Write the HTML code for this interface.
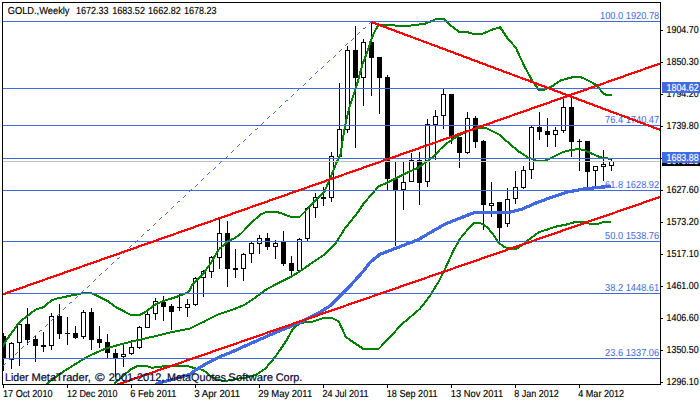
<!DOCTYPE html>
<html><head><meta charset="utf-8"><title>GOLD Weekly</title>
<style>html,body{margin:0;padding:0;background:#fff;}body{width:700px;height:402px;overflow:hidden;}svg{display:block;}text{font-family:"Liberation Sans",sans-serif;stroke-width:0.15px;text-rendering:geometricPrecision;}.k{stroke:#000}.b{stroke:none}.w{stroke:#fff}.n{stroke:#080830;stroke-width:0.2px}</style>
</head><body>
<svg width="700" height="402" viewBox="0 0 700 402">
<rect x="0" y="0" width="700" height="402" fill="#fff"/>
<defs><clipPath id="cp"><rect x="3" y="3" width="657" height="381"/></clipPath></defs>
<g clip-path="url(#cp)">
<g shape-rendering="crispEdges">
<rect x="3" y="333" width="1" height="38" fill="#000"/>
<rect x="1" y="336" width="5" height="23" fill="#000"/>
<rect x="11" y="342" width="1" height="27" fill="#000"/>
<rect x="9.5" y="343.5" width="4" height="16" fill="#fff" stroke="#000" stroke-width="1"/>
<rect x="19" y="322" width="1" height="44" fill="#000"/>
<rect x="17.5" y="324.5" width="4" height="18" fill="#fff" stroke="#000" stroke-width="1"/>
<rect x="27" y="308" width="1" height="37" fill="#000"/>
<rect x="25" y="324" width="5" height="16" fill="#000"/>
<rect x="35" y="335" width="1" height="27" fill="#000"/>
<rect x="33" y="339" width="5" height="7" fill="#000"/>
<rect x="43" y="332" width="1" height="20" fill="#000"/>
<rect x="41" y="345" width="5" height="2" fill="#000"/>
<rect x="51" y="313" width="1" height="37" fill="#000"/>
<rect x="49.5" y="316.5" width="4" height="29" fill="#fff" stroke="#000" stroke-width="1"/>
<rect x="59" y="304" width="1" height="35" fill="#000"/>
<rect x="57" y="316" width="5" height="18" fill="#000"/>
<rect x="67" y="317" width="1" height="28" fill="#000"/>
<rect x="65" y="333" width="5" height="1" fill="#000"/>
<rect x="75" y="326" width="1" height="13" fill="#000"/>
<rect x="73" y="333" width="5" height="5" fill="#000"/>
<rect x="83" y="310" width="1" height="29" fill="#000"/>
<rect x="81.5" y="312.5" width="4" height="24" fill="#fff" stroke="#000" stroke-width="1"/>
<rect x="91" y="308" width="1" height="42" fill="#000"/>
<rect x="89" y="312" width="5" height="28" fill="#000"/>
<rect x="99" y="326" width="1" height="22" fill="#000"/>
<rect x="97" y="339" width="5" height="4" fill="#000"/>
<rect x="107" y="334" width="1" height="24" fill="#000"/>
<rect x="105" y="342" width="5" height="11" fill="#000"/>
<rect x="115" y="349" width="1" height="28" fill="#000"/>
<rect x="113" y="353" width="5" height="5" fill="#000"/>
<rect x="123" y="345" width="1" height="22" fill="#000"/>
<rect x="121.5" y="354.5" width="4" height="2" fill="#fff" stroke="#000" stroke-width="1"/>
<rect x="131" y="340" width="1" height="15" fill="#000"/>
<rect x="129.5" y="347.5" width="4" height="6" fill="#fff" stroke="#000" stroke-width="1"/>
<rect x="139" y="326" width="1" height="23" fill="#000"/>
<rect x="137.5" y="327.5" width="4" height="20" fill="#fff" stroke="#000" stroke-width="1"/>
<rect x="147" y="312" width="1" height="16" fill="#000"/>
<rect x="145.5" y="314.5" width="4" height="13" fill="#fff" stroke="#000" stroke-width="1"/>
<rect x="155" y="298" width="1" height="22" fill="#000"/>
<rect x="153.5" y="301.5" width="4" height="12" fill="#fff" stroke="#000" stroke-width="1"/>
<rect x="163" y="296" width="1" height="25" fill="#000"/>
<rect x="161" y="302" width="5" height="5" fill="#000"/>
<rect x="171" y="304" width="1" height="26" fill="#000"/>
<rect x="169" y="306" width="5" height="6" fill="#000"/>
<rect x="179" y="294" width="1" height="17" fill="#000"/>
<rect x="177" y="307" width="5" height="1" fill="#000"/>
<rect x="187" y="299" width="1" height="18" fill="#000"/>
<rect x="185.5" y="304.5" width="4" height="3" fill="#fff" stroke="#000" stroke-width="1"/>
<rect x="195" y="277" width="1" height="29" fill="#000"/>
<rect x="193.5" y="278.5" width="4" height="26" fill="#fff" stroke="#000" stroke-width="1"/>
<rect x="203" y="270" width="1" height="27" fill="#000"/>
<rect x="201.5" y="271.5" width="4" height="6" fill="#fff" stroke="#000" stroke-width="1"/>
<rect x="211" y="256" width="1" height="22" fill="#000"/>
<rect x="209.5" y="257.5" width="4" height="14" fill="#fff" stroke="#000" stroke-width="1"/>
<rect x="219" y="219" width="1" height="50" fill="#000"/>
<rect x="217.5" y="233.5" width="4" height="24" fill="#fff" stroke="#000" stroke-width="1"/>
<rect x="227" y="221" width="1" height="66" fill="#000"/>
<rect x="225" y="233" width="5" height="36" fill="#000"/>
<rect x="235" y="249" width="1" height="29" fill="#000"/>
<rect x="233" y="268" width="5" height="2" fill="#000"/>
<rect x="243" y="253" width="1" height="28" fill="#000"/>
<rect x="241.5" y="254.5" width="4" height="14" fill="#fff" stroke="#000" stroke-width="1"/>
<rect x="251" y="242" width="1" height="21" fill="#000"/>
<rect x="249.5" y="243.5" width="4" height="10" fill="#fff" stroke="#000" stroke-width="1"/>
<rect x="259" y="235" width="1" height="19" fill="#000"/>
<rect x="257.5" y="238.5" width="4" height="5" fill="#fff" stroke="#000" stroke-width="1"/>
<rect x="267" y="233" width="1" height="17" fill="#000"/>
<rect x="265" y="238" width="5" height="9" fill="#000"/>
<rect x="275" y="240" width="1" height="19" fill="#000"/>
<rect x="273.5" y="243.5" width="4" height="3" fill="#fff" stroke="#000" stroke-width="1"/>
<rect x="283" y="231" width="1" height="35" fill="#000"/>
<rect x="281" y="242" width="5" height="22" fill="#000"/>
<rect x="291" y="256" width="1" height="22" fill="#000"/>
<rect x="289" y="263" width="5" height="8" fill="#000"/>
<rect x="299" y="238" width="1" height="34" fill="#000"/>
<rect x="297.5" y="239.5" width="4" height="31" fill="#fff" stroke="#000" stroke-width="1"/>
<rect x="307" y="207" width="1" height="34" fill="#000"/>
<rect x="305.5" y="208.5" width="4" height="30" fill="#fff" stroke="#000" stroke-width="1"/>
<rect x="315" y="193" width="1" height="25" fill="#000"/>
<rect x="313.5" y="197.5" width="4" height="10" fill="#fff" stroke="#000" stroke-width="1"/>
<rect x="323" y="187" width="1" height="19" fill="#000"/>
<rect x="321" y="197" width="5" height="2" fill="#000"/>
<rect x="331" y="152" width="1" height="50" fill="#000"/>
<rect x="329.5" y="156.5" width="4" height="41" fill="#fff" stroke="#000" stroke-width="1"/>
<rect x="339" y="83" width="1" height="74" fill="#000"/>
<rect x="337.5" y="129.5" width="4" height="27" fill="#fff" stroke="#000" stroke-width="1"/>
<rect x="347" y="46" width="1" height="87" fill="#000"/>
<rect x="345.5" y="50.5" width="4" height="79" fill="#fff" stroke="#000" stroke-width="1"/>
<rect x="355" y="26" width="1" height="122" fill="#000"/>
<rect x="353" y="50" width="5" height="28" fill="#000"/>
<rect x="363" y="39" width="1" height="67" fill="#000"/>
<rect x="361.5" y="42.5" width="4" height="35" fill="#fff" stroke="#000" stroke-width="1"/>
<rect x="371" y="22" width="1" height="74" fill="#000"/>
<rect x="369" y="42" width="5" height="16" fill="#000"/>
<rect x="379" y="57" width="1" height="57" fill="#000"/>
<rect x="377" y="57" width="5" height="21" fill="#000"/>
<rect x="387" y="75" width="1" height="115" fill="#000"/>
<rect x="385" y="77" width="5" height="102" fill="#000"/>
<rect x="395" y="162" width="1" height="84" fill="#000"/>
<rect x="393" y="178" width="5" height="12" fill="#000"/>
<rect x="403" y="161" width="1" height="49" fill="#000"/>
<rect x="401.5" y="182.5" width="4" height="7" fill="#fff" stroke="#000" stroke-width="1"/>
<rect x="411" y="153" width="1" height="29" fill="#000"/>
<rect x="409.5" y="160.5" width="4" height="21" fill="#fff" stroke="#000" stroke-width="1"/>
<rect x="419" y="152" width="1" height="53" fill="#000"/>
<rect x="417" y="160" width="5" height="23" fill="#000"/>
<rect x="427" y="119" width="1" height="68" fill="#000"/>
<rect x="425.5" y="124.5" width="4" height="57" fill="#fff" stroke="#000" stroke-width="1"/>
<rect x="435" y="110" width="1" height="50" fill="#000"/>
<rect x="433.5" y="116.5" width="4" height="8" fill="#fff" stroke="#000" stroke-width="1"/>
<rect x="443" y="89" width="1" height="40" fill="#000"/>
<rect x="441.5" y="94.5" width="4" height="21" fill="#fff" stroke="#000" stroke-width="1"/>
<rect x="451" y="94" width="1" height="50" fill="#000"/>
<rect x="449" y="94" width="5" height="44" fill="#000"/>
<rect x="459" y="137" width="1" height="31" fill="#000"/>
<rect x="457" y="137" width="5" height="16" fill="#000"/>
<rect x="467" y="112" width="1" height="42" fill="#000"/>
<rect x="465.5" y="118.5" width="4" height="34" fill="#fff" stroke="#000" stroke-width="1"/>
<rect x="475" y="116" width="1" height="32" fill="#000"/>
<rect x="473" y="118" width="5" height="24" fill="#000"/>
<rect x="483" y="140" width="1" height="90" fill="#000"/>
<rect x="481" y="141" width="5" height="64" fill="#000"/>
<rect x="491" y="182" width="1" height="35" fill="#000"/>
<rect x="489.5" y="203.5" width="4" height="2" fill="#fff" stroke="#000" stroke-width="1"/>
<rect x="499" y="202" width="1" height="40" fill="#000"/>
<rect x="497" y="202" width="5" height="26" fill="#000"/>
<rect x="507" y="188" width="1" height="39" fill="#000"/>
<rect x="505.5" y="199.5" width="4" height="24" fill="#fff" stroke="#000" stroke-width="1"/>
<rect x="515" y="171" width="1" height="33" fill="#000"/>
<rect x="513.5" y="187.5" width="4" height="11" fill="#fff" stroke="#000" stroke-width="1"/>
<rect x="523" y="166" width="1" height="23" fill="#000"/>
<rect x="521.5" y="170.5" width="4" height="17" fill="#fff" stroke="#000" stroke-width="1"/>
<rect x="531" y="125" width="1" height="54" fill="#000"/>
<rect x="529.5" y="127.5" width="4" height="42" fill="#fff" stroke="#000" stroke-width="1"/>
<rect x="539" y="112" width="1" height="28" fill="#000"/>
<rect x="537" y="127" width="5" height="5" fill="#000"/>
<rect x="547" y="118" width="1" height="29" fill="#000"/>
<rect x="545" y="131" width="5" height="4" fill="#000"/>
<rect x="555" y="127" width="1" height="20" fill="#000"/>
<rect x="553.5" y="130.5" width="4" height="4" fill="#fff" stroke="#000" stroke-width="1"/>
<rect x="563" y="96" width="1" height="37" fill="#000"/>
<rect x="561.5" y="107.5" width="4" height="23" fill="#fff" stroke="#000" stroke-width="1"/>
<rect x="571" y="96" width="1" height="61" fill="#000"/>
<rect x="569" y="107" width="5" height="35" fill="#000"/>
<rect x="579" y="139" width="1" height="32" fill="#000"/>
<rect x="577" y="141" width="5" height="1" fill="#000"/>
<rect x="587" y="141" width="1" height="46" fill="#000"/>
<rect x="585" y="141" width="5" height="31" fill="#000"/>
<rect x="595" y="166" width="1" height="21" fill="#000"/>
<rect x="593.5" y="166.5" width="4" height="4" fill="#fff" stroke="#000" stroke-width="1"/>
<rect x="603" y="150" width="1" height="31" fill="#000"/>
<rect x="601.5" y="164.5" width="4" height="2" fill="#fff" stroke="#000" stroke-width="1"/>
<rect x="611" y="159" width="1" height="12" fill="#000"/>
<rect x="609.5" y="161.5" width="4" height="4" fill="#fff" stroke="#000" stroke-width="1"/>
</g>
<g fill="none" stroke-linejoin="round" stroke-linecap="butt" shape-rendering="crispEdges">
<polyline points="2.0,347.0 3.6,344.8 7.2,339.1 10.8,334.0 14.4,329.0 17.3,324.8 21.6,320.3 27.4,316.0 31.7,312.4 36.1,309.5 43.3,307.3 47.6,303.7 52.0,300.1 57.7,298.4 63.5,297.2 69.3,295.8 75.0,295.0 82.3,293.2 91.0,293.2 98.7,296.5 107.3,300.8 116.0,307.3 123.2,310.9 130.4,314.8 139.8,314.8 144.8,312.4 150.6,308.0 155.7,304.4 162.2,301.5 170.8,298.7 179.5,295.8 186.7,292.9 190.0,290.0 191.5,286.0 197.3,279.5 203.1,273.8 208.9,265.8 211.0,262.7 214.6,256.6 217.5,251.2 220.4,248.0 223.3,245.4 229.1,240.4 234.8,238.2 240.6,233.9 247.8,226.6 255.0,219.4 260.8,214.4 265.1,212.5 269.5,211.5 275.2,211.5 280.0,212.9 284.0,214.3 288.8,216.3 294.0,217.4 299.6,217.0 307.5,209.0 317.6,198.2 324.8,191.0 330.6,177.3 336.4,162.7 340.7,154.0 343.6,133.9 346.5,119.4 349.7,106.5 356.6,86.0 362.4,64.4 368.0,50.0 370.7,41.0 374.3,32.2 378.6,24.8 387.2,24.5 398.6,25.9 410.0,25.6 424.4,23.9 435.8,19.3 444.4,19.3 450.1,25.0 458.7,31.6 467.3,32.2 474.4,34.2 483.0,33.6 493.0,29.3 500.2,27.3 507.3,37.9 515.9,47.9 524.5,66.5 533.1,82.3 538.8,89.7 544.5,89.7 553.1,85.7 560.3,80.5 565.2,79.1 572.0,77.4 581.5,77.4 587.5,80.3 594.3,83.8 598.6,87.2 602.9,93.2 606.4,94.9 611.5,94.9" stroke="#008000" stroke-width="2"/>
<polyline points="46.2,384.0 60.6,373.3 72.2,366.1 83.7,358.9 90.0,355.5 100.0,351.0 107.3,348.0 126.0,343.0 133.3,341.2 147.7,337.9 155.0,336.2 169.4,332.6 190.0,328.5 204.3,321.5 218.6,314.3 232.9,309.5 244.4,304.9 255.8,297.2 264.4,290.6 275.8,284.3 290.1,277.2 299.6,271.6 313.0,262.1 324.5,254.4 335.9,243.0 344.5,229.0 357.0,213.5 363.0,204.5 368.7,197.7 374.4,191.2 378.8,186.2 386.0,183.3 394.6,179.0 403.3,174.6 410.5,171.0 417.7,168.1 423.5,163.8 429.3,159.5 435.0,155.2 440.8,148.7 446.6,143.6 452.4,139.6 458.7,135.7 470.1,130.0 480.2,127.7 487.3,128.6 498.8,134.3 510.2,144.3 518.8,151.5 527.4,157.2 536.0,160.6 540.0,161.3 544.5,160.8 550.1,158.5 556.0,155.6 563.1,152.0 571.0,150.0 579.0,149.1 585.0,150.5 590.5,153.0 597.0,156.0 603.5,158.1 611.4,158.8" stroke="#008000" stroke-width="2"/>
<polyline points="114.0,384.0 124.4,374.6 131.6,368.9 137.4,366.0 146.0,366.0 151.8,367.7 159.0,367.1 166.3,365.7 173.5,366.0 185.0,366.0 190.0,366.7 197.2,368.9 203.0,369.8 208.8,374.6 216.0,379.7 224.6,381.1 233.3,379.4 247.7,377.2 256.4,374.6 265.0,368.9 273.7,358.8 280.9,348.7 286.7,340.0 293.0,328.7 300.2,322.9 313.0,321.5 324.5,317.8 331.6,317.8 338.8,321.5 345.9,337.2 354.5,343.0 363.1,348.7 378.8,348.7 390.0,337.2 401.5,324.4 410.0,317.3 420.0,308.7 430.0,295.8 438.7,281.5 445.8,267.2 453.0,251.5 460.1,238.6 467.3,230.0 474.4,222.9 480.2,222.9 487.3,227.2 493.0,234.3 498.8,242.9 504.5,247.2 510.2,248.6 515.9,249.2 523.1,244.3 530.2,238.6 538.8,232.3 547.4,229.5 556.0,226.6 567.5,224.3 576.0,221.7 584.6,221.7 589.8,223.8 598.4,223.8 603.5,222.1 611.2,221.7" stroke="#008000" stroke-width="2"/>
<polyline points="155.0,384.5 157.6,383.3 172.0,379.7 189.4,374.6 195.7,370.1 207.2,363.0 218.6,357.3 232.9,351.5 247.2,345.0 261.5,338.7 275.8,332.4 290.1,326.7 304.4,320.1 318.7,312.9 330.2,305.8 341.6,294.3 350.2,285.7 363.1,271.4 370.0,262.4 380.0,254.3 398.6,247.2 418.6,239.5 427.2,234.4 444.4,224.4 458.7,218.7 474.4,212.5 490.2,212.1 510.2,212.1 521.6,209.3 536.0,203.0 553.7,196.5 567.5,192.0 584.6,188.9 600.0,187.2 611.2,186.5" stroke="#4169E1" stroke-width="3.2"/>
</g>
<g shape-rendering="crispEdges">
<rect x="3" y="21" width="657" height="1" fill="#4169E1"/>
<rect x="3" y="88" width="657" height="1" fill="#4169E1"/>
<rect x="3" y="125" width="657" height="1" fill="#4169E1"/>
<rect x="3" y="158" width="657" height="1" fill="#4169E1"/>
<rect x="3" y="190" width="657" height="1" fill="#4169E1"/>
<rect x="3" y="241" width="657" height="1" fill="#4169E1"/>
<rect x="3" y="293" width="657" height="1" fill="#4169E1"/>
<rect x="3" y="358" width="657" height="1" fill="#4169E1"/>
<rect x="3" y="161" width="657" height="1" fill="#C0C0C0"/>
</g>
<path d="M3 365.5h1M4 364.5h1M5 363.5h1M9 359.5h1M10 359.5h1M11 358.5h1M15 354.5h1M16 353.5h1M17 352.5h1M21 348.5h1M22 347.5h1M23 346.5h1M27 343.5h1M28 342.5h1M29 341.5h1M33 337.5h1M34 336.5h1M35 335.5h1M39 331.5h1M40 330.5h1M41 330.5h1M45 326.5h1M46 325.5h1M47 324.5h1M51 320.5h1M52 319.5h1M53 318.5h1M57 315.5h1M58 314.5h1M59 313.5h1M63 309.5h1M64 308.5h1M65 307.5h1M69 303.5h1M70 302.5h1M71 302.5h1M75 298.5h1M76 297.5h1M77 296.5h1M81 292.5h1M82 291.5h1M83 290.5h1M87 287.5h1M88 286.5h1M89 285.5h1M93 281.5h1M94 280.5h1M95 279.5h1M99 275.5h1M100 274.5h1M101 273.5h1M105 270.5h1M106 269.5h1M107 268.5h1M111 264.5h1M112 263.5h1M113 262.5h1M117 258.5h1M118 258.5h1M119 257.5h1M123 253.5h1M124 252.5h1M125 251.5h1M129 247.5h1M130 246.5h1M131 245.5h1M135 242.5h1M136 241.5h1M137 240.5h1M141 236.5h1M142 235.5h1M143 234.5h1M147 230.5h1M148 230.5h1M149 229.5h1M153 225.5h1M154 224.5h1M155 223.5h1M159 219.5h1M160 218.5h1M161 217.5h1M165 214.5h1M166 213.5h1M167 212.5h1M171 208.5h1M172 207.5h1M173 206.5h1M177 202.5h1M178 201.5h1M179 201.5h1M183 197.5h1M184 196.5h1M185 195.5h1M189 191.5h1M190 190.5h1M191 189.5h1M195 186.5h1M196 185.5h1M197 184.5h1M201 180.5h1M202 179.5h1M203 178.5h1M207 174.5h1M208 173.5h1M209 172.5h1M213 169.5h1M214 168.5h1M215 167.5h1M219 163.5h1M220 162.5h1M221 161.5h1M225 158.5h1M226 157.5h1M227 156.5h1M231 152.5h1M232 151.5h1M233 150.5h1M237 146.5h1M238 145.5h1M239 144.5h1M243 141.5h1M244 140.5h1M245 139.5h1M249 135.5h1M250 134.5h1M251 133.5h1M255 129.5h1M256 129.5h1M257 128.5h1M261 124.5h1M262 123.5h1M263 122.5h1M267 118.5h1M268 117.5h1M269 116.5h1M273 113.5h1M274 112.5h1M275 111.5h1M279 107.5h1M280 106.5h1M281 105.5h1M285 101.5h1M286 100.5h1M287 100.5h1M291 96.5h1M292 95.5h1M293 94.5h1M297 90.5h1M298 89.5h1M299 88.5h1M303 85.5h1M304 84.5h1M305 83.5h1M309 79.5h1M310 78.5h1M311 77.5h1M315 73.5h1M316 72.5h1M317 71.5h1M321 68.5h1M322 67.5h1M323 66.5h1M327 62.5h1M328 61.5h1M329 60.5h1M333 57.5h1M334 56.5h1M335 55.5h1M339 51.5h1M340 50.5h1M341 49.5h1M345 45.5h1M346 44.5h1M347 43.5h1M351 40.5h1M352 39.5h1M353 38.5h1M357 34.5h1M358 33.5h1M359 32.5h1M363 28.5h1M364 28.5h1M365 27.5h1M369 23.5h1M370 22.5h1M371 21.5h1" stroke="#4169E1" stroke-width="1" fill="none" shape-rendering="crispEdges"/>
<text x="600.0" y="19" font-size="10.2" textLength="59.2" lengthAdjust="spacingAndGlyphs" class="b" fill="#4169E1">100.0 1920.78</text>
<text x="605.0" y="123" font-size="10.2" textLength="54.2" lengthAdjust="spacingAndGlyphs" class="b" fill="#4169E1">76.4 1740.47</text>
<text x="605.0" y="188" font-size="10.2" textLength="54.2" lengthAdjust="spacingAndGlyphs" class="b" fill="#4169E1">61.8 1628.92</text>
<text x="605.0" y="239" font-size="10.2" textLength="54.2" lengthAdjust="spacingAndGlyphs" class="b" fill="#4169E1">50.0 1538.76</text>
<text x="605.0" y="291" font-size="10.2" textLength="54.2" lengthAdjust="spacingAndGlyphs" class="b" fill="#4169E1">38.2 1448.61</text>
<text x="605.0" y="356" font-size="10.2" textLength="54.2" lengthAdjust="spacingAndGlyphs" class="b" fill="#4169E1">23.6 1337.06</text>
<g fill="none" stroke="#FF0000" stroke-width="2.2" shape-rendering="crispEdges">
<line x1="2" y1="294.6" x2="661" y2="63.2"/>
<line x1="117.5" y1="384.5" x2="661" y2="196.6"/>
<line x1="371.5" y1="22" x2="661" y2="130.2"/>
</g>
</g>
<g shape-rendering="crispEdges" fill="#000">
<rect x="2" y="2" width="659" height="1"/>
<rect x="2" y="2" width="1" height="383"/>
<rect x="660" y="2" width="1" height="383"/>
<rect x="2" y="384" width="659" height="1"/>
<rect x="661" y="30" width="2" height="1"/>
<rect x="661" y="62" width="2" height="1"/>
<rect x="661" y="94" width="2" height="1"/>
<rect x="661" y="126" width="2" height="1"/>
<rect x="661" y="158" width="2" height="1"/>
<rect x="661" y="190" width="2" height="1"/>
<rect x="661" y="222" width="2" height="1"/>
<rect x="661" y="254" width="2" height="1"/>
<rect x="661" y="286" width="2" height="1"/>
<rect x="661" y="318" width="2" height="1"/>
<rect x="661" y="350" width="2" height="1"/>
<rect x="661" y="382" width="2" height="1"/>
<rect x="3" y="385" width="1" height="3"/>
<rect x="67" y="385" width="1" height="3"/>
<rect x="131" y="385" width="1" height="3"/>
<rect x="195" y="385" width="1" height="3"/>
<rect x="259" y="385" width="1" height="3"/>
<rect x="323" y="385" width="1" height="3"/>
<rect x="387" y="385" width="1" height="3"/>
<rect x="451" y="385" width="1" height="3"/>
<rect x="515" y="385" width="1" height="3"/>
<rect x="579" y="385" width="1" height="3"/>
</g>
<text x="666.6" y="33" font-size="10.2" textLength="32" lengthAdjust="spacingAndGlyphs" class="k" fill="#000">1904.70</text>
<text x="666.6" y="65" font-size="10.2" textLength="32" lengthAdjust="spacingAndGlyphs" class="k" fill="#000">1850.30</text>
<text x="666.6" y="97" font-size="10.2" textLength="32" lengthAdjust="spacingAndGlyphs" class="k" fill="#000">1794.20</text>
<text x="666.6" y="129" font-size="10.2" textLength="32" lengthAdjust="spacingAndGlyphs" class="k" fill="#000">1739.80</text>
<text x="666.6" y="161" font-size="10.2" textLength="32" lengthAdjust="spacingAndGlyphs" class="k" fill="#000">1683.70</text>
<text x="666.6" y="193" font-size="10.2" textLength="32" lengthAdjust="spacingAndGlyphs" class="k" fill="#000">1627.60</text>
<text x="666.6" y="225" font-size="10.2" textLength="32" lengthAdjust="spacingAndGlyphs" class="k" fill="#000">1573.20</text>
<text x="666.6" y="257" font-size="10.2" textLength="32" lengthAdjust="spacingAndGlyphs" class="k" fill="#000">1517.10</text>
<text x="666.6" y="289" font-size="10.2" textLength="32" lengthAdjust="spacingAndGlyphs" class="k" fill="#000">1461.00</text>
<text x="666.6" y="321" font-size="10.2" textLength="32" lengthAdjust="spacingAndGlyphs" class="k" fill="#000">1406.60</text>
<text x="666.6" y="353" font-size="10.2" textLength="32" lengthAdjust="spacingAndGlyphs" class="k" fill="#000">1350.50</text>
<text x="666.6" y="385" font-size="10.2" textLength="32" lengthAdjust="spacingAndGlyphs" class="k" fill="#000">1296.10</text>
<g shape-rendering="crispEdges">
<rect x="662" y="155" width="38" height="11" fill="#000"/>
</g>
<text x="666.6" y="164" font-size="10.2" textLength="32" lengthAdjust="spacingAndGlyphs" class="w" fill="#fff">1678.23</text>
<g shape-rendering="crispEdges">
<rect x="662" y="152" width="38" height="11" fill="#4169E1"/>
<rect x="662" y="82" width="38" height="11" fill="#4169E1"/>
</g>
<text x="666.6" y="161" font-size="10.2" textLength="32" lengthAdjust="spacingAndGlyphs" class="w" fill="#fff">1683.88</text>
<text x="666.6" y="91" font-size="10.2" textLength="32" lengthAdjust="spacingAndGlyphs" class="w" fill="#fff">1804.62</text>
<text x="3" y="397" font-size="10.2" textLength="49.5" lengthAdjust="spacingAndGlyphs" class="k" fill="#000">17 Oct 2010</text>
<text x="67" y="397" font-size="10.2" textLength="50.5" lengthAdjust="spacingAndGlyphs" class="k" fill="#000">12 Dec 2010</text>
<text x="130.2" y="397" font-size="10.2" textLength="46.3" lengthAdjust="spacingAndGlyphs" class="k" fill="#000">6 Feb 2011</text>
<text x="194.2" y="397" font-size="10.2" textLength="46" lengthAdjust="spacingAndGlyphs" class="k" fill="#000">3 Apr 2011</text>
<text x="258.2" y="397" font-size="10.2" textLength="54" lengthAdjust="spacingAndGlyphs" class="k" fill="#000">29 May 2011</text>
<text x="322.5" y="397" font-size="10.2" textLength="46" lengthAdjust="spacingAndGlyphs" class="k" fill="#000">24 Jul 2011</text>
<text x="386.8" y="397" font-size="10.2" textLength="50.8" lengthAdjust="spacingAndGlyphs" class="k" fill="#000">18 Sep 2011</text>
<text x="450.8" y="397" font-size="10.2" textLength="52.4" lengthAdjust="spacingAndGlyphs" class="k" fill="#000">13 Nov 2011</text>
<text x="514.3" y="397" font-size="10.2" textLength="44.5" lengthAdjust="spacingAndGlyphs" class="k" fill="#000">8 Jan 2012</text>
<text x="578.2" y="397" font-size="10.2" textLength="46" lengthAdjust="spacingAndGlyphs" class="k" fill="#000">4 Mar 2012</text>
<text x="7.7" y="14" font-size="10.2" textLength="61.8" lengthAdjust="spacingAndGlyphs" class="k" fill="#000">GOLD.,Weekly</text>
<text x="76.0" y="14" font-size="10.2" textLength="32.6" lengthAdjust="spacingAndGlyphs" class="k" fill="#000">1672.33</text>
<text x="112.3" y="14" font-size="10.2" textLength="32.6" lengthAdjust="spacingAndGlyphs" class="k" fill="#000">1683.52</text>
<text x="148.1" y="14" font-size="10.2" textLength="32.6" lengthAdjust="spacingAndGlyphs" class="k" fill="#000">1662.82</text>
<text x="183.9" y="14" font-size="10.2" textLength="32.6" lengthAdjust="spacingAndGlyphs" class="k" fill="#000">1678.23</text>
<text x="5.1" y="381" font-size="11" textLength="23.4" lengthAdjust="spacingAndGlyphs" class="n" fill="#080830">Lider</text>
<text x="31.4" y="381" font-size="11" textLength="59.5" lengthAdjust="spacingAndGlyphs" class="n" fill="#080830">MetaTrader,</text>
<text x="94.9" y="381" font-size="11" textLength="9.7" lengthAdjust="spacingAndGlyphs" class="n" fill="#080830">©</text>
<text x="108.7" y="381" font-size="11" textLength="55.9" lengthAdjust="spacingAndGlyphs" class="n" fill="#080830">2001-2012,</text>
<text x="166.9" y="381" font-size="11" textLength="59.0" lengthAdjust="spacingAndGlyphs" class="n" fill="#080830">MetaQuotes</text>
<text x="228.3" y="381" font-size="11" textLength="44.9" lengthAdjust="spacingAndGlyphs" class="n" fill="#080830">Software</text>
<text x="275.7" y="381" font-size="11" textLength="26.7" lengthAdjust="spacingAndGlyphs" class="n" fill="#080830">Corp.</text>
</svg>
</body></html>
